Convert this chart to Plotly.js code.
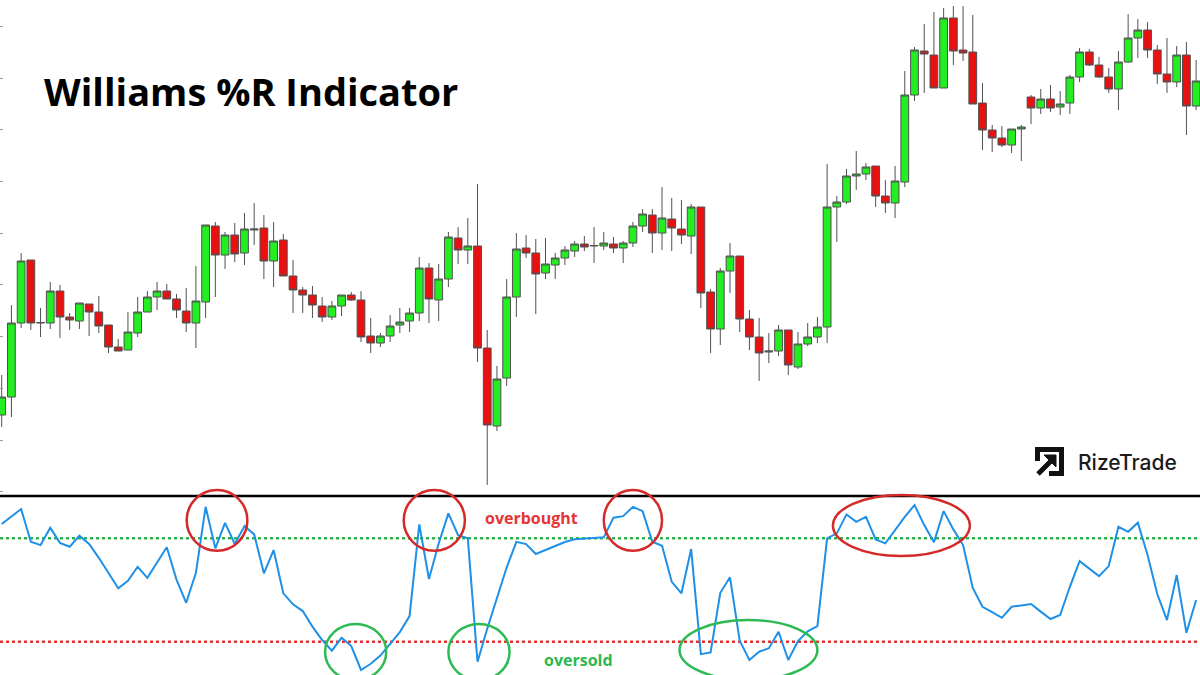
<!DOCTYPE html>
<html>
<head>
<meta charset="utf-8">
<script src="https://cdn.plot.ly/plotly-3.0.1.min.js"></script>
<style>html,body{margin:0;padding:0;background:#fff;}#chart{width:1200px;height:675px;}</style>
</head>
<body>
<div id="chart"></div>
<script>
// ---- Price candles (arbitrary price units) ----
const open = [
  85,103,177,240,177,177,209,183,179,196,
  188,175,153,150,167,188,203,209,201,189,
  177,198,274,245,265,247,270,272,239,260,
  224,210,205,194,183,194,205,200,164,157,
  164,175,179,187,232,200,221,262,250,254,
  152,74,122,203,252,247,227,235,242,249,
  256,254,254,256,252,257,274,285,267,281,
  271,264,293,208,171,229,244,181,163,148,
  149,170,133,156,163,173,293,298,324,326,
  334,304,297,318,405,449,445,412,482,450,
  448,397,370,362,355,371,403,392,401,393,
  397,423,448,435,423,411,438,462,470,450,
  426,418,445,394
];
const high = [
  125,195,247,240,192,218,215,187,197,196,
  204,175,161,188,203,209,218,216,206,212,
  234,275,278,268,277,287,297,285,278,266,
  240,213,214,203,199,205,208,209,182,167,
  185,192,192,243,237,236,268,273,282,316,
  170,134,221,267,265,261,262,247,254,259,
  264,273,268,263,259,278,291,291,313,302,
  300,296,293,211,232,257,244,190,182,167,
  175,170,168,177,183,336,304,331,349,337,
  334,320,334,429,453,476,488,492,494,494,
  485,417,375,374,371,375,405,411,415,409,
  425,452,451,443,432,449,486,481,478,455,
  462,454,458,440
];
const low = [
  73,83,172,170,163,171,162,170,171,164,
  167,147,149,150,163,188,190,201,182,168,
  152,182,203,231,238,235,255,221,213,224,
  187,187,182,178,180,184,199,158,147,153,
  158,167,168,179,177,179,213,236,236,138,
  15,69,114,183,242,186,221,221,235,243,
  249,237,250,247,237,253,268,247,250,249,
  256,246,192,147,155,207,168,150,119,137,
  144,125,131,154,157,157,258,296,310,320,
  293,287,282,313,399,407,412,412,435,439,
  396,350,348,353,347,339,376,386,388,385,
  386,418,434,422,407,390,437,442,442,416,
  407,413,365,390
];
const close = [
  103,177,239,177,177.5,209,183,180,197,188,
  174,153,149,168,188,203,209,201,190,177,
  199,275,245,265,246,271,271,239,259,224,
  210,205,195,183,194,205,200,163,157,164,
  174,178,187,232,201,221,263,250,254,152,
  75,121,203,251,247,226,236,242,250,256,
  253,254.5,257,252,257,274,286,267,282,272,
  265,293,207,171,229,244,181,163,147,149,
  170,135,156,163,173,293,298,324,326,333,
  304,297,319,405,450,446,412,482,449,447,
  396,370,362,355,371,373,392,401,392,396,
  423,448,435,423,411,438,462,470,450,426,
  418,445,394,419
];
// ---- Williams %R values ----
const williamsR = [
  -11.7,-7.1,-3.0,-22.0,-23.9,-13.8,-22.6,-24.9,-18.5,-23.3,
  -31.3,-40.1,-49.0,-44.6,-36.5,-42.9,-33.8,-25.2,-43.9,-57.4,
  -40.0,-1.7,-25.8,-11.0,-23.3,-12.9,-17.7,-40.3,-26.8,-51.9,
  -58.3,-62.2,-71.2,-79.0,-85.2,-77.7,-82.5,-96.4,-92.8,-88.0,
  -81.2,-74.4,-65.1,-11.9,-43.6,-23.0,-5.5,-18.1,-20.0,-91.6,
  -72.5,-54.9,-36.9,-22.0,-23.3,-29.1,-26.7,-24.5,-22.1,-20.5,
  -20.2,-19.8,-19.4,-8.0,-7.1,-1.7,-4.2,-22.0,-24.3,-45.2,
  -51.9,-26.2,-87.2,-86.2,-51.6,-42.6,-79.4,-90.6,-85.8,-83.8,
  -74.2,-90.6,-79.6,-74.0,-70.9,-20.0,-17.1,-6.1,-10.4,-7.5,
  -20.6,-22.9,-15.1,-7.5,-0.7,-12.3,-22.3,-4.2,-14.8,-23.9,
  -48.8,-59.7,-62.8,-66.1,-59.7,-58.9,-58.1,-62.5,-66.8,-64.5,
  -48.1,-33.2,-37.8,-41.9,-36.1,-13.3,-16.2,-10.9,-29.7,-52.3,
  -67.4,-41.3,-74.8,-55.8
];
const overboughtLevel = -20;
const oversoldLevel = -80;
const candleIdx = open.map((_, i) => i);

// helpers for pixel -> paper (layout decoration only)
const W = 1200, H = 675;
const px = x => x / W;
const py = y => 1 - y / H;

const candles = {
  type: 'candlestick',
  x: candleIdx, open: open, high: high, low: low, close: close,
  xaxis: 'x', yaxis: 'y',
  increasing: {fillcolor: '#22ee22', line: {color: '#505050', width: 1}},
  decreasing: {fillcolor: '#ea1010', line: {color: '#505050', width: 1}},
  whiskerwidth: 0,
  hoverinfo: 'skip'
};
const wr = {
  type: 'scatter', mode: 'lines',
  x: candleIdx, y: williamsR,
  xaxis: 'x', yaxis: 'y2',
  line: {color: '#1e90e8', width: 2},
  hoverinfo: 'skip'
};

const redC = '#d42a2a', greenC = '#2dba55';
function ellipse(x0, x1, y0, y1, color) {
  return {type: 'circle', xref: 'x', yref: 'paper', x0: x0, x1: x1, y0: py(y1), y1: py(y0),
          line: {color: color, width: 2.5}, fillcolor: 'rgba(0,0,0,0)', layer: 'above'};
}
const shapes = [
  // separator
  {type: 'line', xref: 'paper', yref: 'paper', x0: 0, x1: 1, y0: py(496), y1: py(496),
   line: {color: '#000', width: 2.5}},
  // levels
  {type: 'line', xref: 'paper', yref: 'y2', x0: 0, x1: 1, y0: overboughtLevel, y1: overboughtLevel,
   line: {color: '#2db34a', width: 2.5, dash: 'dot'}, layer: 'below'},
  {type: 'line', xref: 'paper', yref: 'y2', x0: 0, x1: 1, y0: oversoldLevel, y1: oversoldLevel,
   line: {color: '#e53030', width: 2.5, dash: 'dot'}, layer: 'below'},
  // overbought circles
  ellipse(19.05, 25.3, 490, 550.7, redC),
  ellipse(41.4, 47.7, 490, 550.7, redC),
  ellipse(62.0, 68.0, 490, 550.7, redC),
  ellipse(85.6, 99.7, 495, 556, redC),
  // oversold circles
  ellipse(33.3, 39.6, 624, 680, greenC),
  ellipse(46.0, 52.3, 624, 680, greenC),
  ellipse(69.8, 84.0, 620, 680, greenC),
  // logo icon
  {type: 'rect', xref: 'paper', yref: 'paper', x0: px(1035), x1: px(1064), y0: py(452), y1: py(447), fillcolor: '#111', line: {width: 0}},
  {type: 'rect', xref: 'paper', yref: 'paper', x0: px(1059), x1: px(1064), y0: py(476), y1: py(447), fillcolor: '#111', line: {width: 0}},
  {type: 'rect', xref: 'paper', yref: 'paper', x0: px(1049), x1: px(1064), y0: py(476), y1: py(471), fillcolor: '#111', line: {width: 0}},
  {type: 'rect', xref: 'paper', yref: 'paper', x0: px(1035), x1: px(1040), y0: py(461), y1: py(447), fillcolor: '#111', line: {width: 0}},
  {type: 'line', xref: 'paper', yref: 'paper', x0: px(1038), y0: py(474), x1: px(1051), y1: py(461), line: {color: '#111', width: 5}},
  {type: 'path', xref: 'paper', yref: 'paper',
   path: `M${px(1044)},${py(455)} L${px(1056)},${py(455)} L${px(1056)},${py(467)} Z`,
   fillcolor: '#111', line: {color: '#111', width: 1}}
];

const annotations = [
  {xref: 'paper', yref: 'paper', x: px(42), y: py(91), xanchor: 'left', yanchor: 'middle', showarrow: false,
   text: 'Williams %R Indicator', font: {family: 'Open Sans', size: 38, color: '#000', weight: 700}},
  {xref: 'paper', yref: 'paper', x: px(531), y: py(518), xanchor: 'center', yanchor: 'middle', showarrow: false,
   text: 'overbought', font: {family: 'Open Sans', size: 16, color: '#e53535', weight: 700}},
  {xref: 'paper', yref: 'paper', x: px(578), y: py(660), xanchor: 'center', yanchor: 'middle', showarrow: false,
   text: 'oversold', font: {family: 'Open Sans', size: 16, color: '#2eb84f', weight: 700}},
  {xref: 'paper', yref: 'paper', x: px(1076), y: py(462), xanchor: 'left', yanchor: 'middle', showarrow: false,
   text: 'RizeTrade', font: {family: 'Inter', size: 21, color: '#1b1b1b', weight: 500}}
];

const layout = {
  width: W, height: H,
  margin: {l: 0, r: 0, t: 0, b: 0, pad: 0},
  paper_bgcolor: '#ffffff', plot_bgcolor: 'rgba(0,0,0,0)',
  showlegend: false,
  boxgap: 0.2,
  boxgroupgap: 0,
  hovermode: false,
  xaxis: {range: [-0.175, 123.4], visible: false, fixedrange: true, rangeslider: {visible: false}, anchor: 'y2'},
  yaxis: {domain: [py(496), 1], range: [4, 500], showgrid: false, zeroline: false, showline: false,
          showticklabels: false, ticks: 'inside', ticklen: 3, tickcolor: '#999', tick0: 111.7, dtick: 51.7, fixedrange: true},
  yaxis2: {domain: [0, py(497)], range: [-99.3, 4.0], visible: false, fixedrange: true},
  shapes: shapes,
  annotations: annotations
};

Plotly.newPlot('chart', [candles, wr], layout, {staticPlot: true, displayModeBar: false});
</script>
</body>
</html>
